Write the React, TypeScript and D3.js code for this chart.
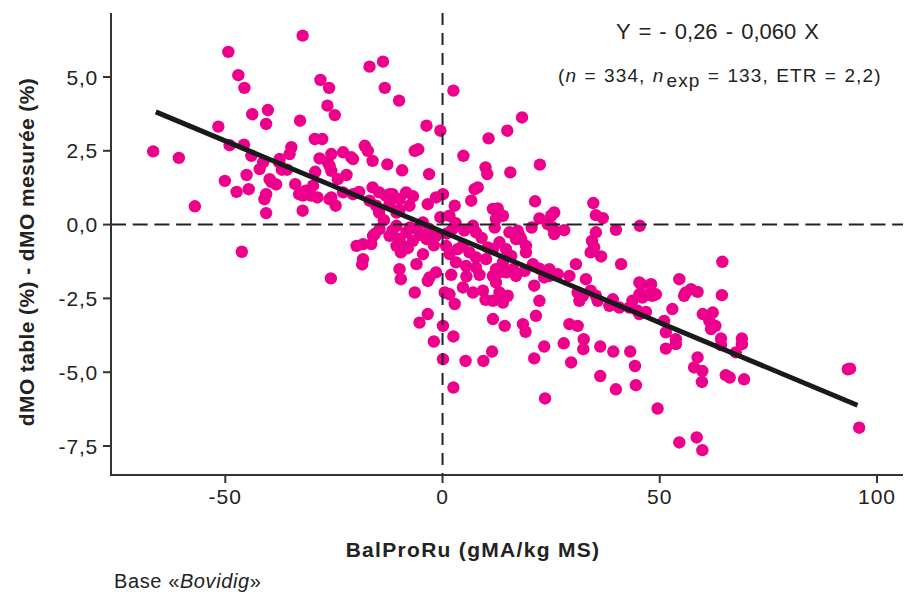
import React from "react";
import * as d3 from "d3";

// BalProRu (gMA/kg MS)
const balProRu: number[] = [
  -66.6, -60.7, -57.0, -49.3, -47.0, -45.6, -51.6, -49.0, -45.7, -43.8,
  -40.2, -40.6, -50.1, -47.4, -45.1, -44.6, -44.0, -42.1, -41.3, -40.6,
  -46.2, -40.6, -41.0, -39.4, -38.3, -37.6, -37.0, -35.2, -34.8, -35.8,
  -32.8, -32.2, -33.9, -33.0, -32.2, -31.5, -30.3, -28.8, -29.8, -29.3,
  -29.4, -27.7, -28.1, -26.1, -26.5, -24.8, -28.3, -26.4, -25.6, -25.6,
  -22.9, -20.6, -24.1, -22.1, -22.9, -25.6, -24.6, -20.6, -19.2, -17.9,
  -17.2, -16.1, -16.8, -13.7, -13.3, -10.0, -12.7, -9.3, -6.4, -5.6,
  -3.7, -0.5, -3.1, -16.1, -14.6, -13.1, -11.5, -9.9, -8.4, -6.8,
  -16.8, -15.3, -14.6, -12.2, -9.9, -3.4, -1.5, 0.1, -19.8, -18.3,
  -16.4, -18.3, -18.5, -25.7, -15.6, -14.5, -10.6, -9.6, -9.9, -9.6,
  -6.0, -4.5, -6.4, -3.4, -1.5, 1.6, -39.8, -32.1, -26.0, -37.5,
  -26.0, -21.0, -10.6, -7.6, -12.2, -10.6, -12.2, -9.9, -8.3, -6.0,
  -4.5, -3.0, -1.5, -3.7, -6.8, -9.1, -16.0, -3.0, -3.4, -5.3,
  0.1, 2.8, 4.7, 7.0, 9.3, 11.6, 13.1, 13.9, 11.6, 14.3,
  18.5, 0.8, 1.6, 3.5, 4.6, 6.2, 7.7, 3.1, 5.4, 7.7,
  10.0, 11.6, 13.1, 14.6, 15.8, 13.9, 16.2, 13.1, 11.6, 12.3,
  17.7, 17.3, 15.4, 19.2, 18.9, 16.9, 2.8, 1.6, 6.6, 7.4,
  8.1, 11.6, 12.3, 13.9, 15.6, 2.5, 18.3, 14.9, 10.6, 4.8,
  9.9, 10.3, 22.4, 12.7, 21.3, 22.3, 24.2, 25.7, 28.0, 25.7,
  34.7, 35.3, 36.9, 39.9, 45.4, 34.4, 35.3, 34.1, 36.5, 41.1,
  64.4, 54.5, 57.2, 58.7, 56.0, 64.3, 48.0, 45.7, 30.7, 29.2,
  33.0, 22.3, 24.6, 21.1, 16.9, 19.2, 10.4, 7.7, 7.0, 2.3,
  12.3, 14.6, 0.5, 25.0, 25.4, 34.9, 18.1, 20.8, 24.6, 26.5,
  23.4, 31.1, 34.1, 31.5, 35.7, 22.3, 21.5, 29.2, 31.1, 39.2,
  40.7, 38.4, 43.0, 43.7, 45.3, 47.2, 49.1, 45.3, 44.9, 52.9,
  51.0, 59.9, 62.2, 19.1, 23.4, 21.1, 27.9, 29.6, 32.5, 32.4,
  36.3, 39.3, 43.2, 44.3, 44.5, 39.9, 36.3, 23.6, 49.5, 54.5,
  58.5, 59.8, 51.4, 53.7, 53.7, 51.4, 58.7, 57.9, 59.8, 59.7,
  61.8, 62.8, 61.4, 64.1, 64.1, 67.5, 68.9, 68.9, 65.2, 66.1,
  69.4, 93.3, 93.8, 95.9, -2.0, 2.5, 0.1, 5.3, 9.4, 11.4,
  2.5, 55.6, 48.3, 46.0, 45.3, 46.8, 35.3, 32.3, 15.0, 9.9,
  -7.5, -5.0, -2.0, -0.5, 1.0, 3.0, 5.0, -11.5, -8.0, -13.5,
  9.0, 12.0, 5.5, 8.5, 2.0, 20.5,
];

// dMO table (%) - dMO mesurée (%)
const dmoDiff: number[] = [
  2.48, 2.26, 0.62, 5.85, 5.06, 4.63, 3.32, 2.69, 2.71, 3.74,
  3.88, 3.41, 1.48, 1.11, 1.68, 1.20, 2.33, 1.88, 2.11, 0.39,
  -0.92, 1.03, 0.86, 1.45, 1.36, 2.11, 1.86, 2.39, 2.62, 1.86,
  3.52, 6.40, 1.37, 1.03, 0.47, 1.15, 0.98, 0.92, 1.32, 1.79,
  2.90, 2.90, 4.90, 4.63, 4.03, 3.71, 2.24, 2.11, 2.39, 1.82,
  2.45, 2.22, 1.54, 1.68, 1.09, 0.92, 0.64, 1.03, 1.11, 2.67,
  2.50, 2.16, 5.35, 5.52, 4.63, 4.20, 2.04, 1.84, 2.50, 2.55,
  3.35, 3.18, 1.71, 1.26, 1.09, 0.98, 1.03, 0.86, 1.09, 0.96,
  0.81, 0.64, 0.41, 0.69, 0.50, 0.69, 0.92, 1.03, -0.72, -0.66,
  -0.66, -1.17, -1.35, -1.82, -0.32, -0.15, -0.72, -0.94, -1.51, -1.85,
  -1.34, -1.00, -2.30, -1.91, -1.62, -2.36, 1.54, 0.98, 0.86, 2.22,
  1.99, 2.28, 0.41, 0.64, 1.03, -0.04, -0.38, -0.49, -0.26, -0.15,
  0.07, -0.15, -0.38, -0.49, -0.55, -0.72, -0.38, -1.79, -3.03, -3.32,
  -3.43, -2.69, -2.13, -2.30, -2.24, -2.58, -2.30, -2.64, -3.20, -3.43,
  -3.37, -0.72, -1.00, -0.83, -0.72, -0.94, -1.11, -1.28, -1.40, -1.45,
  -1.17, -0.83, -0.60, -0.83, -1.06, -1.28, -1.51, -1.62, -1.74, -1.96,
  -0.38, -0.21, -0.26, -0.72, -1.57, -1.74, 0.64, 0.30, 0.81, 1.20,
  1.26, 0.53, 0.19, 0.30, 1.77, 4.54, 3.63, 3.18, 2.92, 2.33,
  1.94, 1.71, 2.03, 0.55, 0.79, 0.21, 0.02, 0.41, -0.19, -0.32,
  0.73, 0.32, 0.22, -0.18, -0.04, -0.55, -0.26, -0.94, -1.08, -1.34,
  -1.26, -1.85, -2.19, -2.28, -2.30, -2.39, -2.02, -2.02, -1.34, -1.74,
  -1.85, -1.49, -1.74, -2.07, -0.49, -0.94, -0.77, -0.26, -0.04, -0.15,
  -1.51, -1.62, -2.30, 0.30, -0.10, -0.77, -0.49, -1.34, -1.51, -1.68,
  -1.79, -2.30, -2.24, -2.58, -2.58, -2.58, -3.09, -3.37, -3.43, -2.53,
  -2.81, -2.75, -2.81, -2.58, -2.36, -2.36, -2.36, -1.96, -2.92, -2.86,
  -3.26, -3.03, -2.98, -3.63, -4.13, -4.53, -4.02, -4.67, -3.88, -4.22,
  -4.13, -4.30, -4.30, -4.79, -5.44, -5.58, -5.13, -5.89, -6.23, -7.38,
  -7.21, -7.64, -3.65, -3.88, -4.05, -4.20, -4.50, -4.84, -4.96, -5.33,
  -3.54, -3.43, -3.26, -3.86, -4.08, -4.33, -3.86, -4.05, -5.10, -5.18,
  -5.24, -4.90, -4.88, -6.88, -3.96, -3.79, -4.56, -4.62, -4.62, -4.30,
  -5.52, -2.41, -2.41, -2.47, -3.03, -2.96, -2.41, -2.41, -2.41, -2.55,
  -0.10, -0.35, -0.70, 0.25, -0.30, 0.05, -0.20, -0.20, -0.80, 0.15,
  -0.45, -0.10, -1.75, -1.70, -1.70, -0.10,
];

// fitted line end points (as drawn)
const fitX: number[] = [-66, 95.5];
const fitY: number[] = [3.82, -6.12];

const xTicks: number[] = [-50, 0, 50, 100];
const yTicks: number[] = [5, 2.5, 0, -2.5, -5, -7.5];

const W = 913;
const H = 594;
const FONT = "'Liberation Sans', Arial, Helvetica, sans-serif";

export default function App() {
  const x = d3.scaleLinear().domain([-50, 100]).range([225.3, 877]);
  const y = d3.scaleLinear().domain([5, -7.5]).range([77, 446]);

  const axL = 111;
  const axR = 903;
  const axT = 13;
  const axB = 475;

  const fmtY = (v: number) => d3.format(".1f")(v).replace(".", ",").replace("−", "-");

  const pts = balProRu.map((v, i) => [v, dmoDiff[i]] as [number, number]);
  const line = d3
    .line<[number, number]>()
    .x((d) => x(d[0]))
    .y((d) => y(d[1]));
  const fit = fitX.map((v, i) => [v, fitY[i]] as [number, number]);

  return (
    <div style={{ position: "absolute", left: 0, top: 0 }}>
      <svg width={W} height={H} style={{ display: "block", fontFamily: FONT }}>
        <rect width={W} height={H} fill="#ffffff" />
        {/* points */}
        <g fill="#EC008C">
          {pts.map((d, i) => (
            <circle key={i} cx={x(d[0])} cy={y(d[1])} r={6.2} />
          ))}
        </g>
        {/* reference dashed lines */}
        <line
          x1={axL}
          x2={axR}
          y1={y(0)}
          y2={y(0)}
          stroke="#222"
          strokeWidth={2}
          strokeDasharray="15 6.7"
        />
        <line
          x1={x(0)}
          x2={x(0)}
          y1={axT}
          y2={axB}
          stroke="#222"
          strokeWidth={2}
          strokeDasharray="12 8"
        />
        {/* regression line */}
        <path d={line(fit) || ""} stroke="#1a1a1a" strokeWidth={5} fill="none" />
        {/* axes */}
        <line x1={axL} x2={axL} y1={axT} y2={axB + 1} stroke="#333" strokeWidth={2} />
        <line x1={axL - 1} x2={axR} y1={axB} y2={axB} stroke="#333" strokeWidth={2} />
        {yTicks.map((t) => (
          <g key={"y" + t}>
            <line x1={axL - 8} x2={axL} y1={y(t)} y2={y(t)} stroke="#333" strokeWidth={2} />
            <text
              x={98}
              y={y(t)}
              dy="0.36em"
              textAnchor="end"
              fontSize={21}
              letterSpacing={0.8}
              fill="#222"
            >
              {fmtY(t)}
            </text>
          </g>
        ))}
        {xTicks.map((t) => (
          <g key={"x" + t}>
            <line x1={x(t)} x2={x(t)} y1={axB} y2={axB + 8} stroke="#333" strokeWidth={2} />
            <text
              x={x(t)}
              y={504}
              textAnchor="middle"
              fontSize={21}
              letterSpacing={1}
              fill="#222"
            >
              {String(t)}
            </text>
          </g>
        ))}
        {/* axis titles */}
        <text
          x={473}
          y={557}
          textAnchor="middle"
          fontSize={21}
          fontWeight="bold"
          letterSpacing={1.3}
          fill="#222"
        >
          BalProRu (gMA/kg MS)
        </text>
        <text
          transform="translate(34,252) rotate(-90)"
          textAnchor="middle"
          fontSize={21}
          fontWeight="bold"
          letterSpacing={0.4}
          fill="#222"
        >
          dMO table (%) - dMO mesurée (%)
        </text>
        {/* annotations */}
        <text x={616} y={39} fontSize={22} fill="#222" wordSpacing={2}>
          Y = - 0,26 - 0,060 X
        </text>
        <text x={558} y={82} fontSize={19} fill="#222" letterSpacing={1.1} wordSpacing={1}>
          (<tspan fontStyle="italic">n</tspan> = 334,{" "}
          <tspan fontStyle="italic">n</tspan>
          <tspan dx={2} dy={5}>exp</tspan>
          <tspan dy={-5}> = 133,  ETR = 2,2)</tspan>
        </text>
        <text x={114} y={588} fontSize={20} fill="#222" letterSpacing={0.6}>
          Base «<tspan fontStyle="italic">Bovidig</tspan>»
        </text>
      </svg>
    </div>
  );
}
